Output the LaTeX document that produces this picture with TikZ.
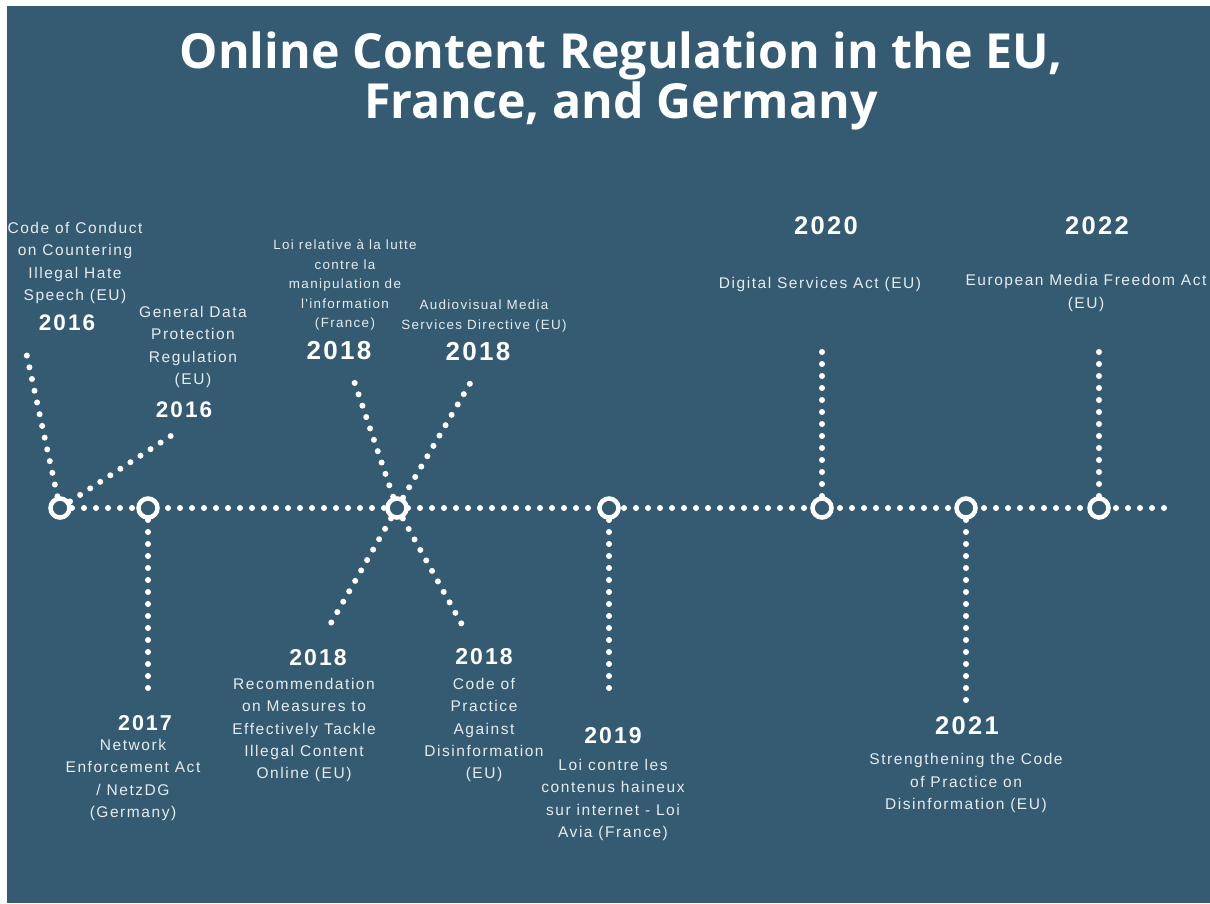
\documentclass[tikz,border=0pt]{standalone}
\usepackage{fontspec}
\setmainfont{Liberation Sans}
\newfontfamily\titlefont{Open Sans}
\newfontfamily\bodyfont[LetterSpace=10]{Liberation Sans}
\newfontfamily\yearfont[LetterSpace=9]{Liberation Sans}
\definecolor{bgblue}{HTML}{355B72}
\definecolor{txtgrey}{HTML}{E6EBEE}
\tikzset{
  dotline/.style={white, line width=6pt, line cap=round, dash pattern=on 0pt off 12pt},
  ring/.style={circle, draw=white, line width=4.5pt, fill=bgblue, minimum size=19pt, inner sep=0pt},
  body/.style={text=txtgrey, align=center, inner sep=0pt, font=\bodyfont\fontsize{15.5}{22.3}\selectfont},
  small/.style={text=txtgrey, align=center, inner sep=0pt, font=\bodyfont\fontsize{13.4}{19.5}\selectfont},
  year/.style={text=white, inner sep=0pt, font=\yearfont\bfseries\fontsize{#1}{#1}\selectfont},
  year/.default=22.5,
  titlestyle/.style={text=white, align=center, inner sep=0pt, font=\titlefont\bfseries\fontsize{48.3}{48}\selectfont}
}
\begin{document}
\begin{tikzpicture}[x=1pt, y=-1pt]
\useasboundingbox (0,0) rectangle (1210,903);
\fill[white] (0,0) rectangle (1210,903);
\fill[bgblue] (7,6) rectangle (1210,903);

\node[titlestyle] (title) at (621,81) {Online Content Regulation in the EU,\\France, and Germany};

% timeline points and branch ends
\coordinate (t) at (1168,508);
\coordinate (e1a) at (25,347);
\coordinate (e1b) at (180,430);
\coordinate (e2) at (148,698);
\coordinate (e3a) at (352,375);
\coordinate (e3b) at (475,375);
\coordinate (e3c) at (327,630);
\coordinate (e3d) at (465,630);
\coordinate (e4) at (609,698);
\coordinate (e5) at (822,345);
\coordinate (e6) at (966,700);
\coordinate (e7) at (1099,345);

\coordinate (p1) at (60,508);
\coordinate (p2) at (148,508);
\coordinate (p3) at (397,508);
\coordinate (p4) at (609,508);
\coordinate (p5) at (822,508);
\coordinate (p6) at (966,508);
\coordinate (p7) at (1099,508);

\draw[dotline] (p1) -- (t);
\draw[dotline] (p1) -- (e1a);
\draw[dotline] (p1) -- (e1b);
\draw[dotline] (p2) -- (e2);
\draw[dotline] (p3) -- (e3a);
\draw[dotline] (p3) -- (e3b);
\draw[dotline] (p3) -- (e3c);
\draw[dotline] (p3) -- (e3d);
\draw[dotline] (p4) -- (e4);
\draw[dotline] (p5) -- (e5);
\draw[dotline] (p6) -- (e6);
\draw[dotline] (p7) -- (e7);

\node[ring] (c1) at (p1) {};
\node[ring] (c2) at (p2) {};
\node[ring] (c3) at (p3) {};
\node[ring] (c4) at (p4) {};
\node[ring] (c5) at (p5) {};
\node[ring] (c6) at (p6) {};
\node[ring] (c7) at (p7) {};

% upper labels
\node[body] (l1) at (75,263) {Code of Conduct\\on Countering\\Illegal Hate\\Speech (EU)};
\node[year] (y1) at (67,323) {2016};
\node[body] (l2) at (193,347) {General Data\\Protection\\Regulation\\(EU)};
\node[year] (y2) at (184,410) {2016};
\node[small] (l3) at (345,285) {Loi relative à la lutte\\contre la\\manipulation de\\l'information\\(France)};
\node[year=26] (y3) at (339,351) {2018};
\node[small] (l4) at (484,316) {Audiovisual Media\\Services Directive (EU)};
\node[year=26] (y4) at (478,352) {2018};
\node[year=25.5] (y5) at (826,226) {2020};
\node[body] (l5) at (820,284) {Digital Services Act (EU)};
\node[year=25.5] (y7) at (1097,226) {2022};
\node[body] (l7) at (1086,293) {European Media Freedom Act\\(EU)};

% lower labels
\node[year=21.5] (y2b) at (145,723) {2017};
\node[body] (l2b) at (133,780) {Network\\Enforcement Act\\/ NetzDG\\(Germany)};
\node[year=23] (y3c) at (318,658) {2018};
\node[body] (l3c) at (304,730) {Recommendation\\on Measures to\\Effectively Tackle\\Illegal Content\\Online (EU)};
\node[year=23] (y3d) at (484,657) {2018};
\node[body] (l3d) at (484,730) {Code of\\Practice\\Against\\Disinformation\\(EU)};
\node[year=23] (y4b) at (613,736) {2019};
\node[body] (l4b) at (613,800) {Loi contre les\\contenus haineux\\sur internet - Loi\\Avia (France)};
\node[year=25.5] (y6) at (967,726) {2021};
\node[body] (l6) at (966,783) {Strengthening the Code\\of Practice on\\Disinformation (EU)};
\end{tikzpicture}
\end{document}
